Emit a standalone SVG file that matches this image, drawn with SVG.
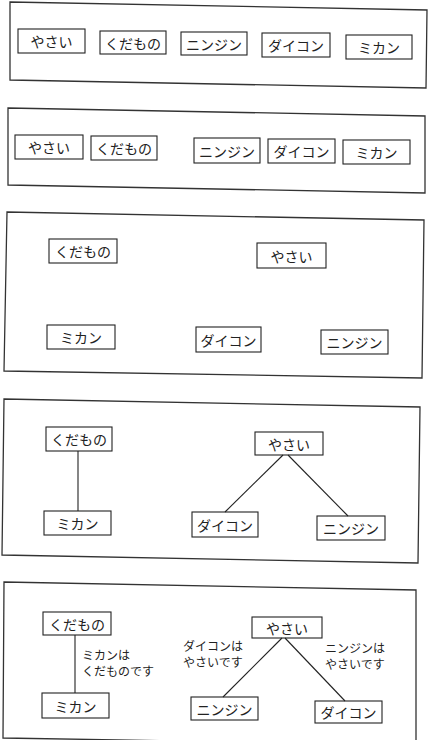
<svg xmlns="http://www.w3.org/2000/svg" width="438" height="740" viewBox="0 0 438 740">
<style>
.frame{fill:none;stroke:#333;stroke-width:1.3}
.box{fill:#fff;stroke:#222;stroke-width:1.1}
.lbl{font-family:"Noto Sans CJK JP","Noto Sans",sans-serif;font-size:14px;fill:#222;text-anchor:middle;dominant-baseline:central}
.note{font-family:"Liberation Sans","Noto Sans CJK JP",sans-serif;font-size:12px;fill:#222}
.conn{stroke:#222;stroke-width:1.1;fill:none}
</style>
<rect width="438" height="740" fill="#fff"/>
<g id="panel1">
<polygon class="frame" points="10,2 427,10 426,88 10,80"/>
<g id="p1-yasai"><rect class="box" x="18" y="29" width="67" height="24"/><text class="lbl" x="51.5" y="41">やさい</text></g>
<g id="p1-kudamono"><rect class="box" x="100" y="31" width="66" height="23"/><text class="lbl" x="133" y="42.5">くだもの</text></g>
<g id="p1-ninjin"><rect class="box" x="181" y="32" width="66" height="23"/><text class="lbl" x="214" y="43.5">ニンジン</text></g>
<g id="p1-daikon"><rect class="box" x="262" y="33" width="68" height="24"/><text class="lbl" x="296" y="45">ダイコン</text></g>
<g id="p1-mikan"><rect class="box" x="346" y="35" width="66" height="24"/><text class="lbl" x="379" y="47">ミカン</text></g>
</g>
<g id="panel2">
<polygon class="frame" points="8,108 425,116 425,193 8,185"/>
<g id="p2-yasai"><rect class="box" x="15" y="135" width="68" height="24"/><text class="lbl" x="49" y="147">やさい</text></g>
<g id="p2-kudamono"><rect class="box" x="91" y="136" width="66" height="24"/><text class="lbl" x="124" y="148">くだもの</text></g>
<g id="p2-ninjin"><rect class="box" x="194" y="138" width="66" height="25"/><text class="lbl" x="227" y="150.5">ニンジン</text></g>
<g id="p2-daikon"><rect class="box" x="268" y="139" width="67" height="24"/><text class="lbl" x="301.5" y="151">ダイコン</text></g>
<g id="p2-mikan"><rect class="box" x="343" y="140" width="67" height="24"/><text class="lbl" x="376.5" y="152">ミカン</text></g>
</g>
<g id="panel3">
<polygon class="frame" points="7,212 424,220 422,378 4,371"/>
<g id="p3-kudamono"><rect class="box" x="49" y="239" width="68" height="24"/><text class="lbl" x="83" y="251">くだもの</text></g>
<g id="p3-yasai"><rect class="box" x="257" y="243" width="69" height="25"/><text class="lbl" x="291.5" y="255.5">やさい</text></g>
<g id="p3-mikan"><rect class="box" x="47" y="325" width="68" height="24"/><text class="lbl" x="81" y="337">ミカン</text></g>
<g id="p3-daikon"><rect class="box" x="196" y="327" width="65" height="25"/><text class="lbl" x="228.5" y="339.5">ダイコン</text></g>
<g id="p3-ninjin"><rect class="box" x="321" y="330" width="67" height="24"/><text class="lbl" x="354.5" y="342">ニンジン</text></g>
</g>
<g id="panel4">
<polygon class="frame" points="4,399 420,407 418,563 2,555"/>
<g id="p4-kudamono"><rect class="box" x="46" y="427" width="66" height="24"/><text class="lbl" x="79" y="439">くだもの</text></g>
<g id="p4-yasai"><rect class="box" x="255" y="432" width="68" height="23"/><text class="lbl" x="289" y="443.5">やさい</text></g>
<g id="p4-mikan"><rect class="box" x="44" y="511" width="67" height="24"/><text class="lbl" x="77.5" y="523">ミカン</text></g>
<g id="p4-daikon"><rect class="box" x="192" y="512" width="66" height="25"/><text class="lbl" x="225" y="524.5">ダイコン</text></g>
<g id="p4-ninjin"><rect class="box" x="317" y="516" width="68" height="24"/><text class="lbl" x="351" y="528">ニンジン</text></g>
</g>
<g id="panel5">
<polygon class="frame" points="4,582 416,590 416,745 3,738"/>
<g id="p5-kudamono"><rect class="box" x="43" y="612" width="68" height="23"/><text class="lbl" x="77" y="623.5">くだもの</text></g>
<g id="p5-yasai"><rect class="box" x="252" y="617" width="70" height="21"/><text class="lbl" x="287" y="627.5">やさい</text></g>
<g id="p5-mikan"><rect class="box" x="42" y="693" width="67" height="25"/><text class="lbl" x="75.5" y="705.5">ミカン</text></g>
<g id="p5-ninjin"><rect class="box" x="191" y="697" width="67" height="23"/><text class="lbl" x="224.5" y="708.5">ニンジン</text></g>
<g id="p5-daikon"><rect class="box" x="315" y="701" width="67" height="22"/><text class="lbl" x="348.5" y="712">ダイコン</text></g>
<g id="p5-notes">
<text class="note" x="82" y="660">ミカンは</text>
<text class="note" x="82" y="676">くだものです</text>
<text class="note" x="183" y="651">ダイコンは</text>
<text class="note" x="183" y="667">やさいです</text>
<text class="note" x="325" y="653">ニンジンは</text>
<text class="note" x="325" y="669">やさいです</text>
</g>
</g>
<g id="connectors">
<line class="conn" x1="78" y1="451" x2="78" y2="511"/>
<line class="conn" x1="283" y1="455" x2="225" y2="512"/>
<line class="conn" x1="288" y1="455" x2="348" y2="516"/>
<line class="conn" x1="75" y1="635" x2="75" y2="693"/>
<line class="conn" x1="282" y1="638" x2="223" y2="697"/>
<line class="conn" x1="285" y1="638" x2="345" y2="701"/>
</g>
</svg>
